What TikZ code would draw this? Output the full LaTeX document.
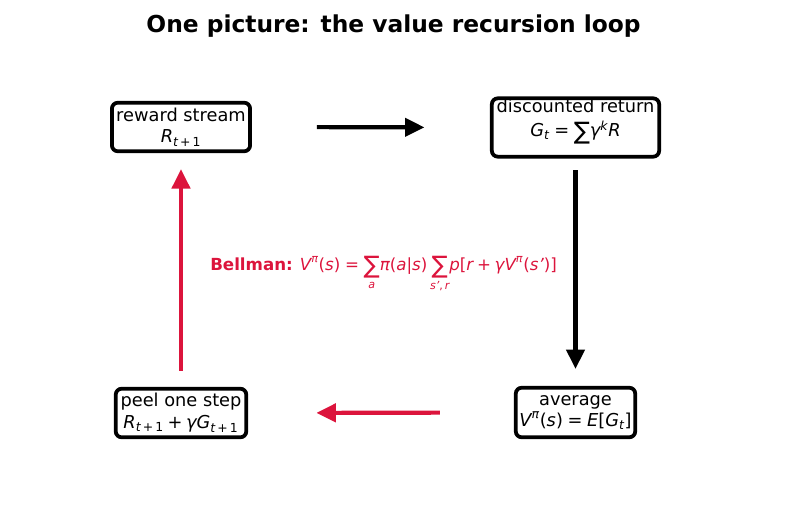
\documentclass[tikz,border=0pt]{standalone}
\usepackage{amsmath}
\usepackage{fontspec}
\setmainfont{DejaVu Sans}
\usetikzlibrary{arrows.meta}
\definecolor{crim}{HTML}{DC143C}
\newcommand\I[1]{\text{\itshape #1}}
\newcommand\U[1]{\text{#1}}
\newcommand\sumu[1]{\mathop{\raisebox{-0.2em}{\U{\LARGE ∑}}}\limits_{#1}\!}
\tikzset{
  box/.style={draw=black, line width=2.7pt, rounded corners=4.3pt, fill=white,
    align=center, inner sep=0pt, outer sep=0pt,
    font=\fontsize{12.8}{15.5}\selectfont},
  arr/.style={line width=3pt, -{Triangle[length=14pt,width=13pt]}},
}
\begin{document}
\begin{tikzpicture}[x=0.72pt,y=-0.72pt]
\useasboundingbox (0,0) rectangle (787,510);
\node[font=\bfseries\fontsize{16.8}{20}\selectfont, anchor=base] (title) at (393.5,32) {One picture: the value recursion loop};
\node[box, minimum width=99.5pt, minimum height=35pt] (rs) at (181,127)
  {reward stream\\ $\I{R}_{\I{t}\U{\,+\,1}}$};
\node[box, minimum width=120.5pt, minimum height=40pt, inner ysep=0.5pt] (dr) at (575.5,127.5)
  {discounted return\\[1.5pt] $\I{G}_{\I{t}}\mathrel{\U{=}}\sumu{}\I{γ}^{\I{k}}\I{R}$};
\node[box, minimum width=94pt, minimum height=35pt] (peel) at (181,413)
  {peel one step\\ $\I{R}_{\I{t}\U{\,+\,1}}\mathbin{\U{+}}\I{γG}_{\I{t}\U{\,+\,1}}$};
\node[box, minimum width=86pt, minimum height=35.7pt] (avg) at (575.5,412.5)
  {average\\ $\I{V}^{\I{π}}\U{(}\I{s}\U{)}\mathrel{\U{=}}\I{E}\U{[}\I{G}_{\I{t}}\U{]}$};
\node[text=crim, anchor=base west, inner sep=0pt, font=\fontsize{12}{15}\selectfont] (bell) at (210,270.5)
  {\textbf{Bellman:} $\I{V}^{\I{π}}\U{(}\I{s}\U{)}\mathrel{\U{=}}\sumu{\I{a}}\I{π}\U{(}\I{a}\U{|}\I{s}\U{)}\sumu{\I{s'}\U{,\,}\I{r}}\I{p}\U{[}\I{r}\mathbin{\U{+}}\I{γV}^{\I{π}}\U{(}\I{s'}\U{)]}$};
\draw[arr, black, shorten <=48pt, shorten >=48.5pt] (rs.east) -- (dr.west);
\draw[arr, black, shorten <=9.9pt, shorten >=13.5pt] (dr.south) -- (avg.north);
\draw[arr, crim, shorten <=54.6pt, shorten >=50.5pt] (avg.west) -- (peel.east);
\draw[arr, crim, shorten <=12.8pt, shorten >=12.8pt] (peel.north) -- (rs.south);
\end{tikzpicture}
\end{document}
